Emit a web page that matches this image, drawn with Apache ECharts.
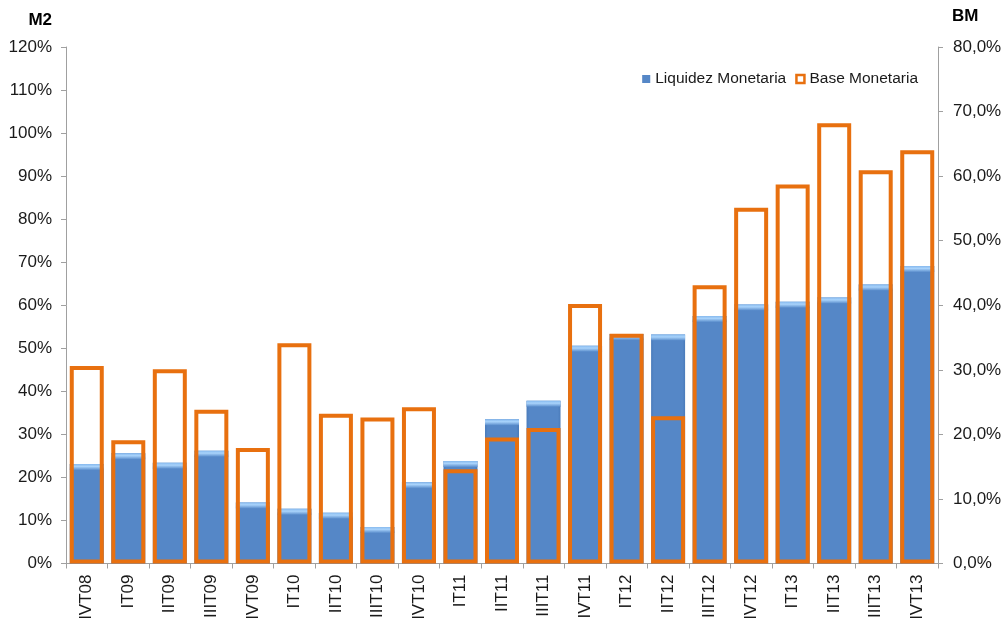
<!DOCTYPE html>
<html>
<head>
<meta charset="utf-8">
<title>Liquidez y Base Monetaria</title>
<script src="https://cdn.jsdelivr.net/npm/echarts@6/dist/echarts.min.js"></script>
<style>
  html, body { margin: 0; padding: 0; background: #fff; }
  #chart_bar { width: 1004px; height: 618px; }
</style>
</head>
<body>
<div id="chart_bar"></div>
<script>
// 数据
var categories = ['IVT08', 'IT09', 'IIT09', 'IIIT09', 'IVT09', 'IT10', 'IIT10', 'IIIT10', 'IVT10', 'IT11', 'IIT11',
  'IIIT11', 'IVT11', 'IT12', 'IIT12', 'IIIT12', 'IVT12', 'IT13', 'IIT13', 'IIIT13', 'IVT13']
// Liquidez Monetaria (M2), eje izquierdo, %
var liquidez = [23.1, 25.6, 23.4, 26.2, 14.2, 12.7, 11.8, 8.5, 18.9, 23.8, 33.5,
  37.8, 50.6, 53.3, 53.2, 57.5, 60.2, 60.8, 61.8, 64.8, 69.1]
// Base Monetaria (BM), eje derecho, %
var base = [30.6, 19.1, 30.1, 23.8, 17.9, 34.1, 23.2, 22.6, 24.2, 14.6, 19.5,
  21.0, 40.2, 35.6, 22.8, 43.1, 55.1, 58.7, 68.2, 60.9, 64.0]

;(function () {
  var myChart = echarts.init(document.getElementById('chart_bar'))

  var font = 'Liberation Sans, Arial, sans-serif'
  var axisColor = '#a0a0a0'

  var option = {
    animation: false,
    textStyle: { fontFamily: font },
    legend: {
      right: 81,
      top: 66,
      itemWidth: 8,
      itemHeight: 8,
      itemGap: 9,
      textStyle: { color: '#1a1a1a', fontSize: 15.5, fontFamily: font },
      data: [
        { name: 'Liquidez Monetaria', icon: 'rect' },
        { name: 'Base Monetaria', icon: 'rect', itemStyle: { borderWidth: 2.5 } },
      ],
    },
    grid: {
      left: 66,
      right: 66,
      top: 47,
      bottom: 54.5,
      containLabel: false,
      outerBoundsMode: 'none',
    },
    xAxis: {
      type: 'category',
      data: categories,
      axisLine: { show: true, lineStyle: { color: axisColor } },
      axisTick: { show: true, length: 5, lineStyle: { color: axisColor } },
      axisLabel: {
        rotate: 90,
        margin: 11,
        color: '#1a1a1a',
        fontSize: 17,
        fontFamily: font,
        interval: 0,
      },
    },
    yAxis: [
      {
        type: 'value',
        name: 'M2',
        nameLocation: 'end',
        nameGap: 18,
        nameTextStyle: {
          color: '#000',
          fontSize: 17,
          fontWeight: 'bold',
          fontFamily: font,
          align: 'right',
          padding: [0, 14, 0, 0],
        },
        min: 0,
        max: 120,
        interval: 10,
        axisLine: { show: true, lineStyle: { color: axisColor } },
        axisTick: { show: true, length: 5, lineStyle: { color: axisColor } },
        splitLine: { show: false },
        axisLabel: {
          margin: 14,
          color: '#1a1a1a',
          fontSize: 17,
          fontFamily: font,
          formatter: function (v) { return v + '%' },
        },
      },
      {
        type: 'value',
        name: 'BM',
        position: 'right',
        nameLocation: 'end',
        nameGap: 22,
        nameTextStyle: {
          color: '#000',
          fontSize: 17,
          fontWeight: 'bold',
          fontFamily: font,
          align: 'left',
          padding: [0, 0, 0, 14],
        },
        min: 0,
        max: 80,
        interval: 10,
        axisLine: { show: true, lineStyle: { color: axisColor } },
        axisTick: { show: true, length: 5, lineStyle: { color: axisColor } },
        splitLine: { show: false },
        axisLabel: {
          margin: 15,
          color: '#1a1a1a',
          fontSize: 17,
          fontFamily: font,
          formatter: function (v) { return v.toFixed(1).replace('.', ',') + '%' },
        },
      },
    ],
    series: [
      {
        name: 'Liquidez Monetaria',
        type: 'bar',
        yAxisIndex: 0,
        barWidth: 34,
        barGap: '-100%',
        itemStyle: {
          color: {
            type: 'linear',
            x: 0, y: 0, x2: 1, y2: 0,
            colorStops: [
              { offset: 0, color: '#4a7bba' },
              { offset: 0.08, color: '#5587c7' },
              { offset: 0.92, color: '#5587c7' },
              { offset: 1, color: '#4a7bba' },
            ],
          },
        },
        data: liquidez,
      },
      {
        // brillo en la parte superior de las barras azules
        name: 'brillo',
        type: 'scatter',
        yAxisIndex: 0,
        symbol: 'rect',
        symbolSize: [34, 6],
        symbolOffset: [0, 3],
        silent: true,
        z: 3,
        itemStyle: {
          opacity: 1,
          color: {
            type: 'linear',
            x: 0, y: 0, x2: 0, y2: 1,
            colorStops: [
              { offset: 0, color: '#86b9ee' },
              { offset: 0.4, color: '#a9d3fb' },
              { offset: 1, color: '#5a8dcc' },
            ],
          },
        },
        data: liquidez,
      },
      {
        name: 'Base Monetaria',
        type: 'bar',
        yAxisIndex: 1,
        barWidth: 34,
        barGap: '-100%',
        z: 4,
        itemStyle: {
          color: 'rgba(255,255,255,0)',
          borderColor: '#e8700f',
          borderWidth: 4,
        },
        data: base,
      },
    ],
  }

  myChart.setOption(option)
})()
</script>
</body>
</html>
